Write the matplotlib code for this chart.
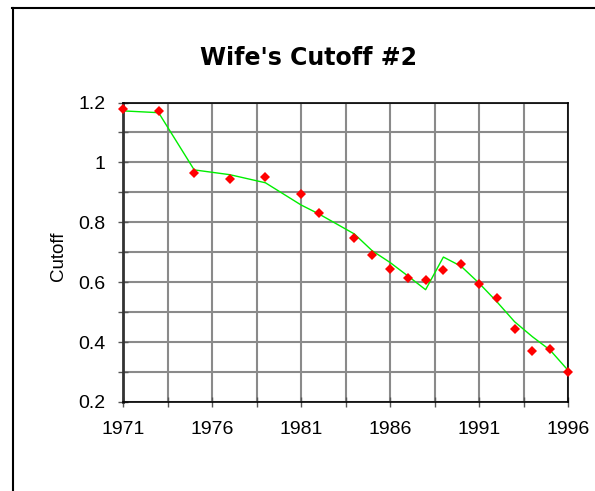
import matplotlib
matplotlib.use("Agg")
import matplotlib.pyplot as plt
from matplotlib.lines import Line2D
from matplotlib.ticker import MultipleLocator, FixedLocator, FixedFormatter

plt.rcParams['font.family'] = ['Liberation Sans', 'DejaVu Sans']

# Data
years = [1971, 1973, 1975, 1977, 1979, 1981, 1982, 1984, 1985, 1986, 1987,
         1988, 1989, 1990, 1991, 1992, 1993, 1994, 1995, 1996]
observed = [1.178, 1.171, 0.966, 0.946, 0.952, 0.894, 0.830, 0.746, 0.691,
            0.643, 0.614, 0.609, 0.641, 0.662, 0.595, 0.546, 0.444, 0.369,
            0.376, 0.300]
fitted = [1.172, 1.166, 0.975, 0.959, 0.932, 0.858, 0.828, 0.761, 0.705,
          0.666, 0.621, 0.575, 0.684, 0.653, 0.597, 0.535, 0.468, 0.418,
          0.373, 0.306]
x_tick_labels = ['1971', '1976', '1981', '1986', '1991', '1996']
y_tick_labels = ['0.2', '0.4', '0.6', '0.8', '1', '1.2']

W, H = 595, 491
fig = plt.figure(figsize=(W / 100, H / 100), dpi=100)
ax = fig.add_axes([123 / W, 1 - 402 / H, (568 - 123) / W, (402 - 102.5) / H])

ax.plot(years, fitted, color='#00ee00', lw=1.0, zorder=3, clip_on=False)
ax.plot(years, observed, linestyle='none', marker='D', markersize=5.2,
        color='#ff0000', markeredgewidth=0, zorder=4, clip_on=False)

ax.set_xlim(1971, 1996)
ax.set_ylim(0.2, 1.2)

# x: gridlines/ticks every 2.5 years from 1971, labels every 5
ax.xaxis.set_major_locator(FixedLocator([1971, 1976, 1981, 1986, 1991, 1996]))
ax.xaxis.set_major_formatter(FixedFormatter(x_tick_labels))
ax.xaxis.set_minor_locator(FixedLocator([1971 + 2.5 * k for k in range(11)]))
ax.yaxis.set_major_locator(FixedLocator([0.2, 0.4, 0.6, 0.8, 1.0, 1.2]))
ax.yaxis.set_major_formatter(FixedFormatter(y_tick_labels))
ax.yaxis.set_minor_locator(MultipleLocator(0.1))

ax.grid(True, which='both', color='#8a8a8a', lw=1.5, zorder=0)
ax.set_axisbelow(True)
ax.tick_params(which='both', direction='inout', length=7, width=1,
               color='#555555', labelsize=14)
ax.tick_params(axis='x', which='major', pad=10)
ax.tick_params(axis='y', which='major', pad=9)
for s in ax.spines.values():
    s.set_color('black')
    s.set_linewidth(1.2)
ax.spines['left'].set_color('#333333')
ax.spines['left'].set_linewidth(2)

fig.text(308 / W, 1 - 58 / H, "Wife's Cutoff #2", ha='center', va='center',
         fontsize=17, fontweight='bold', family=['DejaVu Sans'])
fig.text(58 / W, 1 - 256 / H, 'Cutoff', ha='center', va='center',
         rotation=90, fontsize=13.5)

# chart area border (top and left visible)
fig.add_artist(Line2D([12 / W, 1.0], [1 - 7.5 / H, 1 - 7.5 / H],
                      transform=fig.transFigure, color='black', lw=1.5))
fig.add_artist(Line2D([12.5 / W, 12.5 / W], [0.0, 1 - 7.5 / H],
                      transform=fig.transFigure, color='black', lw=1.5))

fig.savefig('out.png', dpi=100)
